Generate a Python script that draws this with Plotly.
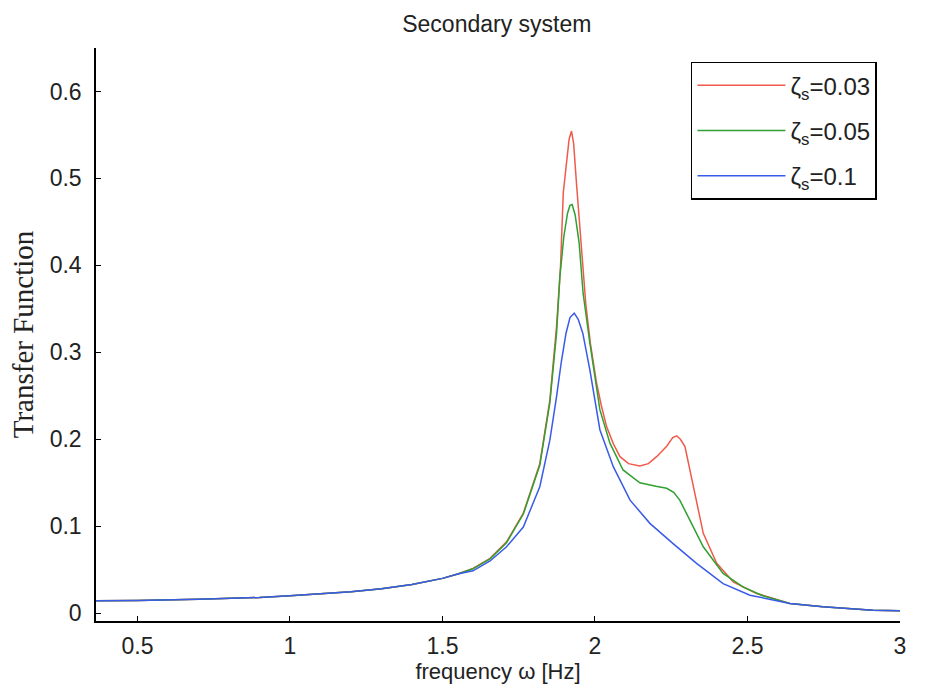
import plotly.graph_objects as go

# Shared low-frequency part (all three curves coincide)
freq_low = [0.364, 0.5, 0.7, 0.9, 1.0, 1.1, 1.2, 1.3, 1.4, 1.5, 1.55]
tf_low = [0.0142, 0.0145, 0.0160, 0.0180, 0.0200, 0.0220, 0.0245, 0.0280, 0.0330, 0.0400, 0.0450]

freq_r = [1.6, 1.656, 1.71, 1.765, 1.819, 1.852, 1.874, 1.887, 1.896, 1.905, 1.915, 1.923, 1.93,
          1.94, 1.956, 1.97, 1.985, 2.005, 2.02, 2.038, 2.06, 2.082, 2.11, 2.147, 2.175, 2.202,
          2.235, 2.255, 2.268, 2.28, 2.295, 2.322, 2.355, 2.399, 2.453, 2.53, 2.639, 2.747, 2.911, 3.0]
tf_r = [0.0515, 0.063, 0.082, 0.115, 0.172, 0.245, 0.33, 0.399, 0.4835, 0.515, 0.545, 0.5545, 0.54,
        0.491, 0.42, 0.355, 0.31, 0.265, 0.24, 0.2146, 0.195, 0.180, 0.172, 0.1693, 0.172, 0.180,
        0.192, 0.202, 0.204, 0.200, 0.1916, 0.1455, 0.0918, 0.0573, 0.036, 0.0227, 0.0112, 0.0073,
        0.0035, 0.0027]

freq_g = [1.6, 1.656, 1.71, 1.765, 1.819, 1.852, 1.874, 1.885, 1.898, 1.91, 1.918, 1.925, 1.935,
          1.948, 1.961, 1.983, 2.016, 2.049, 2.092, 2.147, 2.20, 2.235, 2.258, 2.278, 2.311, 2.355,
          2.42, 2.486, 2.55, 2.639, 2.747, 2.911, 3.0]
tf_g = [0.0510, 0.0625, 0.081, 0.114, 0.170, 0.242, 0.322, 0.3875, 0.4335, 0.460, 0.469, 0.470, 0.458,
        0.426, 0.368, 0.311, 0.234, 0.1955, 0.1647, 0.150, 0.146, 0.1437, 0.139, 0.130, 0.107, 0.0764,
        0.0457, 0.030, 0.020, 0.0112, 0.0073, 0.0035, 0.0027]

freq_b = [1.6, 1.656, 1.71, 1.765, 1.819, 1.852, 1.874, 1.89, 1.905, 1.918, 1.932, 1.945, 1.96,
          1.983, 2.016, 2.06, 2.115, 2.18, 2.256, 2.333, 2.42, 2.508, 2.639, 2.747, 2.911, 3.0]
tf_b = [0.0487, 0.060, 0.0764, 0.099, 0.1455, 0.199, 0.249, 0.29, 0.322, 0.340, 0.345, 0.338, 0.322,
        0.28, 0.211, 0.1685, 0.130, 0.1033, 0.080, 0.0573, 0.034, 0.0207, 0.0112, 0.0073, 0.0035, 0.0027]

series_names = ["ζ<sub>s</sub>=0.03", "ζ<sub>s</sub>=0.05", "ζ<sub>s</sub>=0.1"]
series_colors = ["#f05a4a", "#30a030", "#3a5ae8"]

y_ticks = [0, 0.1, 0.2, 0.3, 0.4, 0.5, 0.6]
y_tick_labels = ["0", "0.1", "0.2", "0.3", "0.4", "0.5", "0.6"]
x_ticks = [0.5, 1, 1.5, 2, 2.5, 3]
x_tick_labels = ["0.5", "1", "1.5", "2", "2.5", "3"]

SANS = "Liberation Sans, Arial"
SERIF = "Liberation Serif, Times New Roman"

fig = go.Figure()
for i, (fx, fy, name, col) in enumerate(zip([freq_r, freq_g, freq_b], [tf_r, tf_g, tf_b],
                                             series_names, series_colors)):
    fig.add_trace(go.Scatter(x=freq_low + fx, y=tf_low + fy, mode="lines", name=name,
                             legendgroup="g%d" % i,
                             line=dict(color=col, width=1.5)))

fig.update_layout(
    width=941, height=696,
    margin=dict(l=96, r=41, t=48, b=75),
    paper_bgcolor="white", plot_bgcolor="white",
    title=dict(text="Secondary system", x=0.528, xanchor="center", y=0.965, yanchor="middle",
               font=dict(family=SANS, size=23, color="#222")),
    showlegend=True,
    legend=dict(x=0.74, y=0.976, xanchor="left", yanchor="top",
                bordercolor="black", borderwidth=1.5, bgcolor="white",
                font=dict(family=SANS, size=24, color="#222"),
                tracegroupgap=11, itemwidth=88),
    font=dict(family=SANS, size=23, color="#222"),
)
fig.update_xaxes(range=[0.364, 3.0], tickvals=x_ticks, ticktext=x_tick_labels,
                 showline=True, linecolor="black", linewidth=1.5, mirror=False,
                 ticks="inside", ticklen=5, tickcolor="black", showgrid=False, zeroline=False,
                 ticklabelstandoff=4,
                 tickfont=dict(family=SANS, size=23, color="#222"),
                 title=dict(text="frequency ω [Hz]", standoff=4,
                            font=dict(family=SANS, size=22, color="#222")))
fig.update_yaxes(range=[-0.009, 0.65], tickvals=y_ticks, ticktext=y_tick_labels,
                 showline=True, linecolor="black", linewidth=1.5, mirror=False,
                 ticks="inside", ticklen=5, tickcolor="black", showgrid=False, zeroline=False,
                 ticklabelstandoff=8,
                 tickfont=dict(family=SANS, size=23, color="#222"),
                 title=dict(text="Transfer Function", standoff=8,
                            font=dict(family=SERIF, size=29, color="#222")))

fig.write_html("out.html")
